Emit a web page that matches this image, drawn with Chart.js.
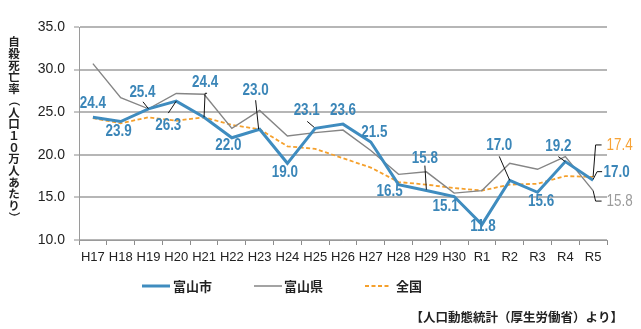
<!DOCTYPE html>
<html>
<head>
<meta charset="utf-8">
<script src="https://cdn.jsdelivr.net/npm/chart.js@4.4.1/dist/chart.umd.min.js"></script>
<style>
  html, body { margin: 0; padding: 0; background: #ffffff; }
  #wrap { width: 641px; height: 329px; position: relative; }
</style>
</head>
<body>
<div id="wrap"><canvas id="c" width="641" height="329"></canvas></div>
<script>
// Fiscal years (Heisei / Reiwa)
const years = ['H17','H18','H19','H20','H21','H22','H23','H24','H25','H26','H27','H28','H29','H30','R1','R2','R3','R4','R5'];

// Suicide death rate per 100,000 people
const toyamaCity = [24.4,23.9,25.4,26.3,24.4,22.0,23.0,19.0,23.1,23.6,21.5,16.5,15.8,15.1,11.8,17.0,15.6,19.2,17.0];
const toyamaPref = [30.7,26.7,25.4,27.2,27.1,23.1,25.2,22.2,22.6,22.9,20.5,17.7,18.0,15.5,15.8,19.0,18.3,19.8,15.8];
const national   = [24.3,23.7,24.4,24.0,24.4,23.5,23.0,21.0,20.7,19.6,18.5,16.8,16.5,16.1,15.8,16.5,16.6,17.5,17.4];

// Y axis range and step
const yMin = 10;
const yMax = 35;
const yStep = 5;

const seriesNames = ['富山市', '富山県', '全国'];
const axisTitle = '自殺死亡率（人口１０万人あたり）';
const sourceNote = '【人口動態統計（厚生労働省）より】';

const BLUE = '#3f8cbf';
const BLUE_TEXT = '#3b86b8';
const GRAY = '#858585';
const ORANGE = '#f5a02c';

// Label placement for the city series: offset of the text centre from the point,
// plus an optional leader polyline (offsets from the point).
const cityLabelPlacement = [
  { dx: 0,    dy: -14 },
  { dx: -2,   dy: 10 },
  { dx: -6,   dy: -16, leader: [[-5.5,-7],[0,0]] },
  { dx: -8,   dy: 24,  leader: [[-8,12],[0,0]] },
  { dx: 1,    dy: -35, leader: [[3,-24],[1,-24],[0,0]] },
  { dx: -3.5, dy: 8 },
  { dx: -4,   dy: -39, leader: [[-4,-29],[-1,0]] },
  { dx: -2.5, dy: 9 },
  { dx: -8.5, dy: -17.5, leader: [[-8,-7],[-1,-1]] },
  { dx: 0,    dy: -14 },
  { dx: 3.5,  dy: -9.5 },
  { dx: -9,   dy: 7 },
  { dx: -1.5, dy: -32, leader: [[-1.5,-25],[0,-1]] },
  { dx: -8.5, dy: 10 },
  { dx: 1,    dy: 2 },
  { dx: -10.5, dy: -35, leader: [[-10.5,-24],[0,0]] },
  { dx: 3.5,  dy: 9 },
  { dx: -7,   dy: -15.5, leader: [[-7,-5],[0,0]] },
  { dx: 23.5, dy: -7.7, leader: [[0,-1],[4,-8.7],[9,-8.7]] }
];

// End-of-series labels for the prefecture and national lines (last point only)
const endLabelPlacement = {
  1: { dx: 26.5, dy: 11,  leader: [[0,0],[2.5,10.5],[8.5,10.5]], color: '#9b9b9b' },
  2: { dx: 26.5, dy: -31, leader: [[0,0],[2.5,-32],[8.5,-32]],   color: '#f7a336' }
};

// condensed text: horizontally squeezed glyphs
function narrowText(ctx, text, x, y, squeeze) {
  ctx.save();
  ctx.translate(x, y);
  ctx.scale(squeeze, 1);
  ctx.fillText(text, 0, 0);
  ctx.restore();
}

const valueLabels = {
  id: 'valueLabels',
  afterDatasetsDraw(chart) {
    const ctx = chart.ctx;
    const xs = chart.scales.x, ys = chart.scales.y;
    ctx.save();
    // leader lines
    ctx.strokeStyle = '#111';
    ctx.lineWidth = 1;
    const drawLeader = (px, py, pts) => {
      ctx.beginPath();
      pts.forEach((p, k) => {
        const x = px + p[0], y = py + p[1];
        if (k === 0) ctx.moveTo(x, y); else ctx.lineTo(x, y);
      });
      ctx.stroke();
    };
    toyamaCity.forEach((v, i) => {
      const pl = cityLabelPlacement[i];
      if (pl.leader) drawLeader(xs.getPixelForValue(i), ys.getPixelForValue(v), pl.leader);
    });
    const last = years.length - 1;
    [[1, toyamaPref], [2, national]].forEach(([k, arr]) => {
      const pl = endLabelPlacement[k];
      drawLeader(xs.getPixelForValue(last), ys.getPixelForValue(arr[last]), pl.leader);
    });

    // texts
    ctx.textAlign = 'center';
    ctx.textBaseline = 'middle';
    ctx.font = 'bold 16px "Liberation Sans", sans-serif';
    ctx.fillStyle = BLUE_TEXT;
    toyamaCity.forEach((v, i) => {
      const pl = cityLabelPlacement[i];
      narrowText(ctx, v.toFixed(1), xs.getPixelForValue(i) + pl.dx, ys.getPixelForValue(v) + pl.dy, 0.84);
    });
    ctx.font = '16px "Liberation Sans", sans-serif';
    [[1, toyamaPref], [2, national]].forEach(([k, arr]) => {
      const pl = endLabelPlacement[k];
      ctx.fillStyle = pl.color;
      narrowText(ctx, arr[last].toFixed(1), xs.getPixelForValue(last) + pl.dx, ys.getPixelForValue(arr[last]) + pl.dy, 0.84);
    });
    ctx.restore();
  }
};

// Vertical axis title, legend and source note
const decorations = {
  id: 'decorations',
  afterDraw(chart) {
    const ctx = chart.ctx;
    ctx.save();
    // vertical title, one character per row
    ctx.fillStyle = '#222';
    ctx.font = 'bold 11.5px "Noto Sans CJK JP", sans-serif';
    ctx.textAlign = 'center';
    ctx.textBaseline = 'middle';
    const chars = Array.from(axisTitle);
    chars.forEach((ch, i) => {
      const x = 14, y = 42 + i * 11.7;
      if (ch === '（' || ch === '）') {
        ctx.save();
        ctx.translate(x, y);
        ctx.rotate(Math.PI / 2);
        ctx.fillText(ch, 0, 0);
        ctx.restore();
      } else {
        ctx.fillText(ch, x, y);
      }
    });

    // legend
    const ly = 286;
    const items = [
      { x0: 142, x1: 170, tx: 173, color: BLUE, width: 3, dash: [] },
      { x0: 254, x1: 282, tx: 284, color: GRAY, width: 1.5, dash: [] },
      { x0: 365, x1: 391, tx: 396, color: ORANGE, width: 1.8, dash: [4, 2.5] }
    ];
    ctx.textAlign = 'left';
    ctx.font = 'bold 13px "Noto Sans CJK JP", sans-serif';
    items.forEach((it, k) => {
      ctx.beginPath();
      ctx.setLineDash(it.dash);
      ctx.strokeStyle = it.color;
      ctx.lineWidth = it.width;
      ctx.moveTo(it.x0, ly);
      ctx.lineTo(it.x1, ly);
      ctx.stroke();
      ctx.setLineDash([]);
      ctx.fillStyle = '#222';
      ctx.fillText(seriesNames[k], it.tx, ly);
    });

    // source note
    ctx.textAlign = 'right';
    ctx.font = 'bold 12.5px "Noto Sans CJK JP", sans-serif';
    ctx.fillText(sourceNote, 623, 317);
    ctx.restore();
  }
};

new Chart(document.getElementById('c'), {
  type: 'line',
  data: {
    labels: years,
    datasets: [
      { label: seriesNames[0], data: toyamaCity, borderColor: BLUE, borderWidth: 3, pointRadius: 0, tension: 0, fill: false },
      { label: seriesNames[1], data: toyamaPref, borderColor: GRAY, borderWidth: 1.4, pointRadius: 0, tension: 0, fill: false },
      { label: seriesNames[2], data: national, borderColor: ORANGE, borderWidth: 1.8, borderDash: [4, 2.5], pointRadius: 0, tension: 0, fill: false }
    ]
  },
  options: {
    responsive: false,
    animation: false,
    devicePixelRatio: 1,
    layout: { padding: { left: 0, right: 34, top: 27, bottom: 59 } },
    plugins: { legend: { display: false }, tooltip: { enabled: false }, title: { display: false } },
    scales: {
      x: {
        type: 'category',
        offset: true,
        afterFit(s) { s.height = 30; },
        grid: { offset: true, drawOnChartArea: false, drawTicks: true, tickLength: 5, color: '#8c8c8c', lineWidth: 1 },
        border: { display: true, color: '#9a9a9a', width: 1 },
        ticks: {
          autoSkip: false, maxRotation: 0, padding: 5, color: '#222',
          font: { family: '"Liberation Sans", sans-serif', size: 13 }
        }
      },
      y: {
        min: yMin, max: yMax,
        afterFit(s) { s.width = 79; },
        grid: { color: '#b6b6b6', lineWidth: 2, drawTicks: true, tickLength: 5, tickColor: '#8c8c8c', tickWidth: 1 },
        border: { display: true, color: '#9a9a9a', width: 1 },
        ticks: {
          stepSize: yStep, padding: 9, color: '#222',
          font: { family: '"Liberation Sans", sans-serif', size: 14 },
          callback: (v) => Number(v).toFixed(1)
        }
      }
    }
  },
  plugins: [valueLabels, decorations]
});
</script>
</body>
</html>
